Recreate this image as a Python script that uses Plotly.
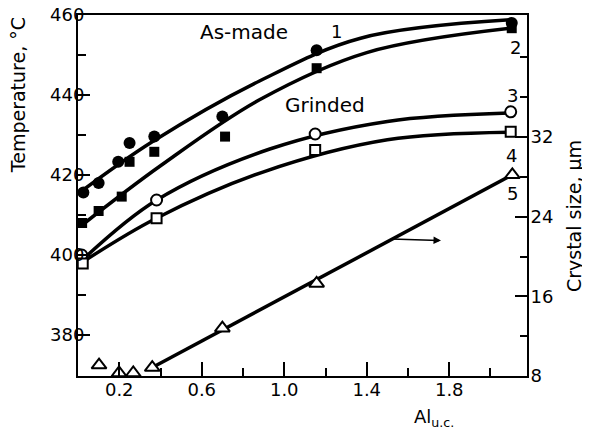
import plotly.graph_objects as go

# ---- data ----
al_filled_circle = [0.026, 0.10, 0.195, 0.25, 0.37, 0.70, 1.157, 2.103]
t_filled_circle = [415.6, 418.0, 423.3, 428.0, 429.6, 434.6, 451.2, 458.0]

al_filled_square = [0.02, 0.10, 0.212, 0.25, 0.37, 0.713, 1.157, 2.103]
t_filled_square = [408.0, 411.0, 414.6, 423.3, 425.8, 429.6, 446.7, 456.7]

al_open_circle = [0.018, 0.381, 1.15, 2.098]
t_open_circle = [400.0, 413.75, 430.25, 435.8]

al_open_square = [0.023, 0.381, 1.15, 2.098]
t_open_square = [397.9, 409.2, 426.25, 430.8]

al_triangle = [0.102, 0.199, 0.268, 0.36, 0.70, 1.157, 2.106]
size_triangle = [9.1, 8.3, 8.3, 8.85, 12.8, 17.3, 28.2]

# fitted curves
fit1_x = [0.0, 0.36, 0.88, 1.37, 2.10]
fit1_y = [415.3, 428.3, 443.5, 454.2, 458.8]
fit2_x = [0.02, 0.40, 0.88, 1.40, 2.10]
fit2_y = [407.5, 422.3, 438.8, 450.6, 456.7]
fit3_x = [0.03, 0.38, 0.93, 1.50, 2.09]
fit3_y = [399.2, 413.7, 426.5, 433.4, 435.5]
fit4_x = [0.03, 0.38, 0.90, 1.50, 2.09]
fit4_y = [398.5, 409.2, 420.8, 428.8, 430.7]
fit5_x = [0.36, 2.106]
fit5_y = [8.85, 28.2]

x_tickvals = [0.2, 0.6, 1.0, 1.4, 1.8]
x_ticktext = ["0.2", "0.6", "1.0", "1.4", "1.8"]
x_minor = [0.4, 0.8, 1.2, 1.6, 2.0]
y_tickvals = [380, 400, 420, 440, 460]
y_minor = [390, 410, 430, 450]
y2_tickvals = [8, 16, 24, 32]
y2_minor = [12, 20, 28, 36, 40]

FONT = "DejaVu Sans"
LW = 3.5

fig = go.Figure()

for fx, fy in [(fit1_x, fit1_y), (fit2_x, fit2_y), (fit3_x, fit3_y), (fit4_x, fit4_y)]:
    fig.add_trace(go.Scatter(x=fx, y=fy, mode="lines",
                             line=dict(color="black", width=LW, shape="spline", smoothing=1.0),
                             hoverinfo="skip", showlegend=False))
fig.add_trace(go.Scatter(x=fit5_x, y=fit5_y, mode="lines", yaxis="y2",
                         line=dict(color="black", width=LW), showlegend=False))

fig.add_trace(go.Scatter(x=al_filled_circle, y=t_filled_circle, mode="markers",
                         marker=dict(symbol="circle", size=12, color="black"), showlegend=False))
fig.add_trace(go.Scatter(x=al_filled_square, y=t_filled_square, mode="markers",
                         marker=dict(symbol="square", size=10, color="black"), showlegend=False))
fig.add_trace(go.Scatter(x=al_open_circle, y=t_open_circle, mode="markers",
                         marker=dict(symbol="circle", size=11, color="white",
                                     line=dict(color="black", width=2)), showlegend=False))
fig.add_trace(go.Scatter(x=al_open_square, y=t_open_square, mode="markers",
                         marker=dict(symbol="square", size=10, color="white",
                                     line=dict(color="black", width=2)), showlegend=False))
fig.add_trace(go.Scatter(x=al_triangle, y=size_triangle, mode="markers", yaxis="y2",
                         marker=dict(symbol="triangle-up", size=13, color="white",
                                     line=dict(color="black", width=2)), showlegend=False))

tickfont = dict(family=FONT, size=18, color="black")
axis_common = dict(showgrid=False, zeroline=False, showline=True, linecolor="black",
                   linewidth=2, ticks="inside", tickcolor="black", tickwidth=1.5,
                   tickfont=tickfont, automargin=False, ticklabeloverflow="allow")

# page body has an 8px margin, so the figure is 8px smaller and margins shifted
fig.update_layout(
    width=582, height=431,
    margin=dict(l=70, r=63, t=7, b=63, autoexpand=False),
    paper_bgcolor="white", plot_bgcolor="white",
    font=dict(family=FONT, color="black"),
    xaxis=dict(range=[0, 2.177], tickvals=x_tickvals, ticktext=x_ticktext, ticklen=14,
               ticklabelstandoff=-4,
               minor=dict(tickvals=x_minor, ticks="inside", ticklen=8, tickcolor="black", tickwidth=1.5),
               mirror=True, **axis_common),
    yaxis=dict(range=[369.75, 460], tickvals=y_tickvals, ticklen=12, ticklabelstandoff=-12,
               minor=dict(tickvals=y_minor, ticks="inside", ticklen=8, tickcolor="black", tickwidth=1.5),
               **axis_common),
    yaxis2=dict(range=[8, 44.25], overlaying="y", side="right", anchor="x",
                tickvals=y2_tickvals, ticklen=12, ticklabelstandoff=-2,
                minor=dict(tickvals=y2_minor, ticks="inside", ticklen=7, tickcolor="black", tickwidth=1.5),
                **axis_common),
)

annots = [
    dict(text="As-made", x=0.805, y=455.8, xref="x", yref="y", font=dict(size=20)),
    dict(text="Grinded", x=1.198, y=437.5, xref="x", yref="y", font=dict(size=20)),
    dict(text="1", x=1.254, y=456.0, xref="x", yref="y", font=dict(size=18)),
    dict(text="2", x=2.119, y=452.0, xref="x", yref="y", font=dict(size=18)),
    dict(text="3", x=2.109, y=440.0, xref="x", yref="y", font=dict(size=18)),
    dict(text="4", x=2.100, y=425.0, xref="x", yref="y", font=dict(size=18)),
    dict(text="5", x=2.108, y=415.4, xref="x", yref="y", font=dict(size=18)),
    dict(text="Temperature, °C", x=-0.1336, y=0.778, xref="paper", yref="paper",
         textangle=-90, font=dict(size=19)),
    dict(text="Crystal size, µm", x=1.1047, y=0.443, xref="paper", yref="paper",
         textangle=-90, font=dict(size=19)),
    dict(text="Al<sub>u.c.</sub>", x=0.743, y=-0.116, xref="paper", yref="paper",
         xanchor="left", font=dict(size=18)),
]
for a in annots:
    a.setdefault("showarrow", False)
    a.setdefault("xanchor", "center")
    a.setdefault("yanchor", "middle")
    a["font"] = dict(family=FONT, color="black", **a["font"])
    fig.add_annotation(**a)

fig.add_annotation(x=1.76, y=21.6, ax=1.513, ay=21.76, xref="x", yref="y2",
                   axref="x", ayref="y2", showarrow=True, arrowhead=2, arrowsize=1,
                   arrowwidth=1.5, arrowcolor="black", text="")

fig.write_html("out.html")
